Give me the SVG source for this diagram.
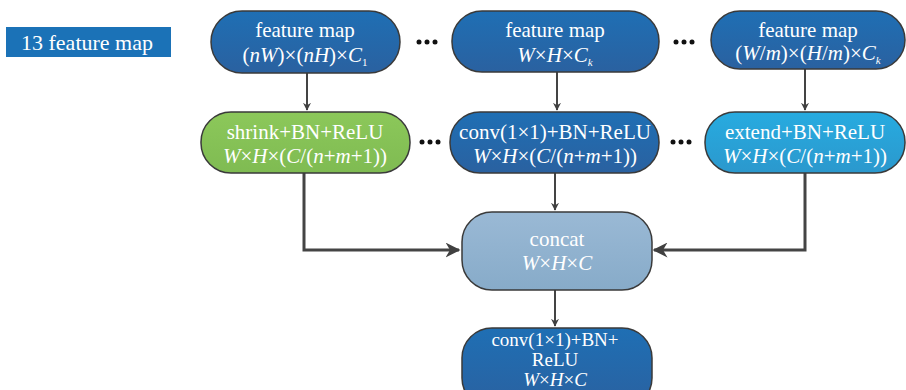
<svg xmlns="http://www.w3.org/2000/svg" width="906" height="390" viewBox="0 0 906 390">
<style>
.t text{fill:#fff;text-anchor:middle;font-family:'Liberation Serif','Times New Roman','DejaVu Serif',serif}
.i{font-style:italic}
.n{stroke:#3a3a3a;stroke-width:1.5}
.c{stroke:#444;fill:none}
.d{fill:#111}
</style>
<defs>
<linearGradient id="gb" x1="0" y1="0" x2="0" y2="1"><stop offset="0" stop-color="#1f6fb4"/><stop offset="1" stop-color="#2a61a0"/></linearGradient>
<linearGradient id="gg" x1="0" y1="0" x2="0" y2="1"><stop offset="0" stop-color="#8cc85a"/><stop offset="1" stop-color="#7fbb52"/></linearGradient>
<linearGradient id="gc" x1="0" y1="0" x2="0" y2="1"><stop offset="0" stop-color="#27abe0"/><stop offset="1" stop-color="#2b98cd"/></linearGradient>
<linearGradient id="gl" x1="0" y1="0" x2="0" y2="1"><stop offset="0" stop-color="#9ab9d5"/><stop offset="1" stop-color="#87abc9"/></linearGradient>
<marker id="a" viewBox="0 0 10 10" refX="9" refY="5" markerWidth="8" markerHeight="8" markerUnits="userSpaceOnUse" orient="auto">
<path d="M0,0 L10,5 L0,10 L3,5 Z" fill="#404040"/></marker>
<marker id="b" viewBox="0 0 10 10" refX="9" refY="5" markerWidth="5" markerHeight="5" orient="auto">
<path d="M0,0 L10,5 L0,10 L3,5 Z" fill="#404040"/></marker>
</defs>

<g id="connectors">
<line class="c" x1="307" y1="73" x2="307" y2="110" stroke-width="2" marker-end="url(#a)"/>
<line class="c" x1="557" y1="72" x2="557" y2="110" stroke-width="2" marker-end="url(#a)"/>
<line class="c" x1="805" y1="69" x2="805" y2="110" stroke-width="2" marker-end="url(#a)"/>
<line class="c" x1="555" y1="173" x2="555" y2="210" stroke-width="2" marker-end="url(#a)"/>
<line class="c" x1="555" y1="290" x2="555" y2="326" stroke-width="2" marker-end="url(#a)"/>
<polyline class="c" points="304,173 304,250 459,250" stroke-width="3" marker-end="url(#b)"/>
<polyline class="c" points="805,173 805,250 654,250" stroke-width="3" marker-end="url(#b)"/>
</g>

<g id="dots">
<circle class="d" cx="419" cy="42" r="2.5"/><circle class="d" cx="427" cy="42" r="2.5"/><circle class="d" cx="435" cy="42" r="2.5"/>
<circle class="d" cx="676" cy="42" r="2.5"/><circle class="d" cx="684" cy="42" r="2.5"/><circle class="d" cx="692" cy="42" r="2.5"/>
<circle class="d" cx="422" cy="142" r="2.5"/><circle class="d" cx="430" cy="142" r="2.5"/><circle class="d" cx="438" cy="142" r="2.5"/>
<circle class="d" cx="673" cy="142" r="2.5"/><circle class="d" cx="681" cy="142" r="2.5"/><circle class="d" cx="689" cy="142" r="2.5"/>
</g>

<g class="t" font-size="21">
<g id="legend"><rect x="6" y="27" width="165" height="30" fill="#1b72b7"/><text x="87" y="50" font-size="22">13 feature map</text></g>

<g id="fm1"><rect class="n" x="211" y="11" width="189" height="62" rx="31" fill="url(#gb)"/>
<text x="305" y="37">feature map</text>
<text x="305" y="62"><tspan>(</tspan><tspan class="i">nW</tspan><tspan>)×(</tspan><tspan class="i">nH</tspan><tspan>)×</tspan><tspan class="i">C</tspan><tspan font-size="11" dy="4">1</tspan></text></g>

<g id="fmk"><rect class="n" x="452" y="11" width="207" height="61" rx="30" fill="url(#gb)"/>
<text x="555" y="37">feature map</text>
<text x="555" y="62"><tspan class="i">W</tspan><tspan>×</tspan><tspan class="i">H</tspan><tspan>×</tspan><tspan class="i">C</tspan><tspan class="i" font-size="11" dy="4">k</tspan></text></g>

<g id="fmm"><rect class="n" x="711" y="11" width="194" height="58" rx="29" fill="url(#gb)"/>
<text x="808" y="37">feature map</text>
<text x="808" y="60"><tspan>(</tspan><tspan class="i">W</tspan><tspan>/</tspan><tspan class="i">m</tspan><tspan>)×(</tspan><tspan class="i">H</tspan><tspan>/</tspan><tspan class="i">m</tspan><tspan>)×</tspan><tspan class="i">C</tspan><tspan class="i" font-size="11" dy="4">k</tspan></text></g>

<g id="shrink"><rect class="n" x="201" y="112" width="209" height="61" rx="30" fill="url(#gg)"/>
<text x="305" y="139">shrink+BN+ReLU</text>
<text x="305" y="163"><tspan class="i">W</tspan><tspan>×</tspan><tspan class="i">H</tspan><tspan>×(</tspan><tspan class="i">C</tspan><tspan>/(</tspan><tspan class="i">n</tspan><tspan>+</tspan><tspan class="i">m</tspan><tspan>+1))</tspan></text></g>

<g id="conv"><rect class="n" x="450" y="112" width="209" height="61" rx="30" fill="url(#gb)"/>
<text x="555" y="139">conv(1×1)+BN+ReLU</text>
<text x="555" y="163"><tspan class="i">W</tspan><tspan>×</tspan><tspan class="i">H</tspan><tspan>×(</tspan><tspan class="i">C</tspan><tspan>/(</tspan><tspan class="i">n</tspan><tspan>+</tspan><tspan class="i">m</tspan><tspan>+1))</tspan></text></g>

<g id="extend"><rect class="n" x="705" y="112" width="200" height="61" rx="30" fill="url(#gc)"/>
<text x="805" y="139">extend+BN+ReLU</text>
<text x="805" y="163"><tspan class="i">W</tspan><tspan>×</tspan><tspan class="i">H</tspan><tspan>×(</tspan><tspan class="i">C</tspan><tspan>/(</tspan><tspan class="i">n</tspan><tspan>+</tspan><tspan class="i">m</tspan><tspan>+1))</tspan></text></g>

<g id="concat"><rect class="n" x="462" y="212" width="190" height="78" rx="30" fill="url(#gl)"/>
<text x="557" y="246">concat</text>
<text x="557" y="270"><tspan class="i">W</tspan><tspan>×</tspan><tspan class="i">H</tspan><tspan>×</tspan><tspan class="i">C</tspan></text></g>

<g id="final" font-size="19"><rect class="n" x="462" y="328" width="190" height="80" rx="30" fill="url(#gb)"/>
<text x="555" y="346">conv(1×1)+BN+</text>
<text x="555" y="366">ReLU</text>
<text x="555" y="386"><tspan class="i">W</tspan><tspan>×</tspan><tspan class="i">H</tspan><tspan>×</tspan><tspan class="i">C</tspan></text></g>
</g>
</svg>
